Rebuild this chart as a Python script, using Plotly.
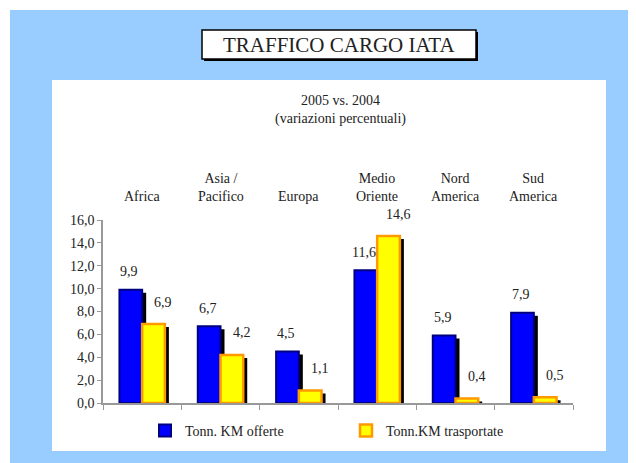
import plotly.graph_objects as go

# Dati (variazioni percentuali 2005 vs. 2004)
regioni = ["Africa", "Asia /<br>Pacifico", "Europa", "Medio<br>Oriente", "Nord<br>America", "Sud<br>America"]
offerte = [9.9, 6.7, 4.5, 11.6, 5.9, 7.9]
trasportate = [6.9, 4.2, 1.1, 14.6, 0.4, 0.5]
y_ticks = [0, 2, 4, 6, 8, 10, 12, 14, 16]

PAGE = 8  # browser body margin
W, H = 636 - PAGE, 463 - PAGE
PW, PH = 470, 183
L, T = 103 - PAGE, 220 - PAGE
R, B = W - L - PW, H - T - PH
FONT = "'Liberation Serif', 'DejaVu Serif', serif"
TXT = "#222222"

x_pos = list(range(len(regioni)))
n = len(regioni)


# page pixel -> paper coords
def fx(p):
    return (p - PAGE - L) / PW


def fy(p):
    return (PAGE + T + PH - p) / PH


def lab(v):
    return f"{v:.1f}".replace(".", ",")


# shadow offset in axis units (3px right, 4px down)
dx = 3 / PW * n
dy = 4 / PH * (y_ticks[-1] - y_ticks[0])

fig = go.Figure()

# drop shadows (bottom layer, shifted axes)
for vals in (offerte, trasportate):
    fig.add_trace(go.Bar(
        x=x_pos, y=vals, xaxis="x", yaxis="y",
        marker=dict(color="black", line=dict(color="black", width=2)),
        showlegend=False, hoverinfo="skip",
    ))

fig.add_trace(go.Bar(
    x=x_pos, y=offerte, name="Tonn. KM offerte", xaxis="x2", yaxis="y2",
    marker=dict(color="#0000FF", line=dict(color="#000080", width=2)),
))
fig.add_trace(go.Bar(
    x=x_pos, y=trasportate, name="Tonn.KM trasportate", xaxis="x2", yaxis="y2",
    marker=dict(color="#FFFF00", line=dict(color="#FF9900", width=2.5)),
))

ann = []
for i, v in enumerate(offerte):
    ann.append(dict(x=x_pos[i], y=v, xref="x2", yref="y2", text=lab(v), showarrow=False,
                    xanchor="center", yanchor="middle",
                    xshift=-13, yshift=18, font=dict(size=14, color=TXT)))
for i, v in enumerate(trasportate):
    ann.append(dict(x=x_pos[i], y=v, xref="x2", yref="y2", text=lab(v), showarrow=False,
                    xanchor="center", yanchor="middle",
                    xshift=21, yshift=22, font=dict(size=14, color=TXT)))
for i, name in enumerate(regioni):
    ann.append(dict(x=x_pos[i], y=1, xref="x2", yref="paper", text=name, showarrow=False,
                    xanchor="center", yanchor="bottom", yshift=14, font=dict(size=14, color=TXT)))

ann.append(dict(x=fx(339), y=fy(45), xref="paper", yref="paper", text="TRAFFICO CARGO IATA",
                xanchor="center", yanchor="middle",
                showarrow=False, font=dict(size=21, color=TXT)))
ann.append(dict(x=fx(340), y=fy(110), xref="paper", yref="paper",
                text="2005 vs. 2004<br>(variazioni percentuali)",
                xanchor="center", yanchor="middle",
                showarrow=False, font=dict(size=14, color=TXT)))

shapes = [
    dict(type="rect", xref="paper", yref="paper", x0=fx(10), x1=fx(645), y0=fy(10), y1=fy(470),
         fillcolor="#99CCFF", line=dict(width=0), layer="below"),
    dict(type="rect", xref="paper", yref="paper", x0=fx(52), x1=fx(606), y0=fy(80), y1=fy(451),
         fillcolor="white", line=dict(width=0), layer="below"),
    dict(type="rect", xref="paper", yref="paper", x0=fx(204), x1=fx(478), y0=fy(32), y1=fy(61),
         fillcolor="black", line=dict(width=0), layer="below"),
    dict(type="rect", xref="paper", yref="paper", x0=fx(202), x1=fx(476), y0=fy(30), y1=fy(59),
         fillcolor="white", line=dict(color="black", width=1.5), layer="below"),
]

fig.update_layout(
    width=W, height=H,
    margin=dict(l=L, r=R, t=T, b=B),
    paper_bgcolor="white", plot_bgcolor="rgba(0,0,0,0)",
    font=dict(family=FONT, size=14, color=TXT),
    separators=",.",
    barmode="group", bargap=0.42, bargroupgap=0,
    xaxis=dict(range=[-0.5 - dx, n - 0.5 - dx], visible=False, fixedrange=True),
    yaxis=dict(range=[y_ticks[0] + dy, y_ticks[-1] + dy], visible=False, fixedrange=True),
    xaxis2=dict(overlaying="x", anchor="y2", range=[-0.5, n - 0.5],
                tickvals=[k - 0.5 for k in range(n + 1)], showticklabels=False,
                ticks="outside", ticklen=5, tickcolor="#999999",
                showline=True, linecolor="#999999", linewidth=1.5, showgrid=False, zeroline=False),
    yaxis2=dict(overlaying="y", anchor="x2", side="left", range=[y_ticks[0], y_ticks[-1]],
                tickvals=y_ticks, tickformat=".1f",
                ticks="outside", ticklen=4, tickcolor="#999999",
                showline=True, linecolor="#999999", linewidth=1.5, showgrid=False, zeroline=False,
                tickfont=dict(size=14, color=TXT)),
    legend=dict(orientation="h", x=fx(145), y=fy(415), xanchor="left", yanchor="top",
                entrywidth=156, font=dict(size=14, color=TXT), bgcolor="rgba(0,0,0,0)"),
    annotations=ann,
    shapes=shapes,
)

fig.write_html("out.html")
